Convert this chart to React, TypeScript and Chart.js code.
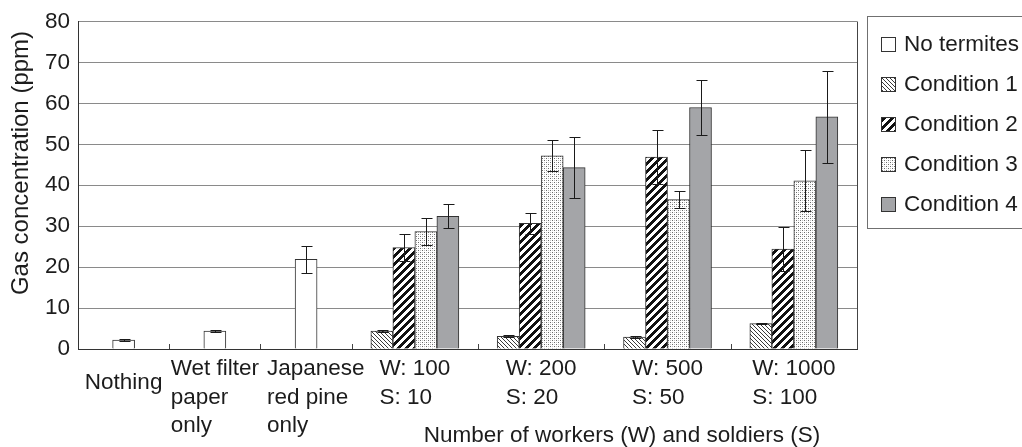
import React, { useEffect, useRef } from "react";
import { Chart, registerables } from "chart.js";

Chart.register(...registerables);

// ---- data ----
const categoryLabels: string[][] = [
  ["Nothing"],
  ["Wet filter", "paper", "only"],
  ["Japanese", "red pine", "only"],
  ["W: 100", "S: 10"],
  ["W: 200", "S: 20"],
  ["W: 500", "S: 50"],
  ["W: 1000", "S: 100"],
];

const seriesNames = ["No termites", "Condition 1", "Condition 2", "Condition 3", "Condition 4"];

const noTermites = [2.2, 4.4, 21.9, null, null, null, null];
const noTermitesErr = [0.2, 0.3, 3.3, null, null, null, null];

const condition1 = [null, null, null, 4.4, 3.1, 2.9, 6.2];
const condition1Err = [null, null, null, 0.3, 0.2, 0.2, 0.2];

const condition2 = [null, null, null, 24.8, 30.7, 46.9, 24.4];
const condition2Err = [null, null, null, 3.3, 2.5, 6.5, 5.3];

const condition3 = [null, null, null, 28.7, 47.2, 36.5, 41.1];
const condition3Err = [null, null, null, 3.3, 3.8, 2.1, 7.5];

const condition4 = [null, null, null, 32.4, 44.3, 59.0, 56.7];
const condition4Err = [null, null, null, 2.9, 7.4, 6.7, 11.2];

const yMin = 0;
const yMax = 80;
const yStep = 10;

const yAxisTitle = "Gas concentration (ppm)";
const xAxisTitle = "Number of workers (W) and soldiers (S)";

// relative width of each category slot: single-bar slots are narrower than the 4-bar groups
const categorySpan = [13, 13, 13, 18, 18, 18, 18];

// ---- layout helpers ----
const FONT = "Liberation Sans";
const FONT_SIZE = 22.5;
const TEXT = "#1c1c1c";

function slotCenters(spans: number[]) {
  let acc = 0;
  return spans.map((w) => {
    const c = acc + w / 2;
    acc += w;
    return c;
  });
}
function slotBoundaries(spans: number[]) {
  const out: number[] = [];
  let acc = 0;
  spans.forEach((w) => {
    acc += w;
    out.push(acc);
  });
  return out;
}
const spanTotal = categorySpan.reduce((a, b) => a + b, 0);

function makePattern(size: number, paint: (g: CanvasRenderingContext2D) => void) {
  const c = document.createElement("canvas");
  c.width = size;
  c.height = size;
  const g = c.getContext("2d")!;
  g.fillStyle = "#ffffff";
  g.fillRect(0, 0, size, size);
  paint(g);
  return g.createPattern(c, "repeat") as CanvasPattern;
}

export default function App() {
  const canvasRef = useRef<HTMLCanvasElement | null>(null);

  useEffect(() => {
    const canvas = canvasRef.current;
    if (!canvas) return;

    // fine "\" hatching
    const hatchFine = makePattern(4, (g) => {
      g.fillStyle = "#3a3a3a";
      for (let i = 0; i < 4; i++) g.fillRect(i, i, 1, 1);
    });
    // bold "/" stripes
    const hatchBold = makePattern(8, (g) => {
      g.fillStyle = "#111111";
      for (let x = 0; x < 8; x++)
        for (let y = 0; y < 8; y++) if ((x + y) % 8 < 4) g.fillRect(x, y, 1, 1);
    });
    // stipple dots
    const dots = makePattern(4, (g) => {
      g.fillStyle = "#6a6a6a";
      g.fillRect(0, 0, 1, 1);
      g.fillRect(2, 2, 1, 1);
      g.fillStyle = "#c4c4c4";
      g.fillRect(2, 0, 1, 1);
      g.fillRect(0, 2, 1, 1);
    });

    const fills: (string | CanvasPattern)[] = ["#ffffff", hatchFine, hatchBold, dots, "#a4a5a8"];
    const values = [noTermites, condition1, condition2, condition3, condition4];
    const errors = [noTermitesErr, condition1Err, condition2Err, condition3Err, condition4Err];

    const centers = slotCenters(categorySpan);
    const bounds = slotBoundaries(categorySpan).slice(0, -1);

    const datasets = values.map((vals, si) => ({
      label: seriesNames[si],
      data: vals.map((v, i) => ({ x: centers[i], y: v })),
      backgroundColor: fills[si],
      borderColor: "#333333",
      borderWidth: 1,
      barThickness: 22,
      skipNull: true,
    }));

    const errorBars = {
      id: "errorBars",
      afterDatasetsDraw(chart: any) {
        const { ctx } = chart;
        const ys = chart.scales.y;
        ctx.save();
        ctx.strokeStyle = "#1a1a1a";
        ctx.lineWidth = 1;
        chart.data.datasets.forEach((ds: any, di: number) => {
          const meta = chart.getDatasetMeta(di);
          meta.data.forEach((bar: any, i: number) => {
            const v = values[di][i];
            const e = errors[di][i];
            if (v == null || e == null) return;
            const x = Math.round(bar.x) + 0.5;
            const top = Math.round(ys.getPixelForValue(v + e)) + 0.5;
            const bot = Math.round(ys.getPixelForValue(v - e)) + 0.5;
            ctx.beginPath();
            ctx.moveTo(x, top);
            ctx.lineTo(x, bot);
            ctx.moveTo(x - 5, top);
            ctx.lineTo(x + 6, top);
            ctx.moveTo(x - 5, bot);
            ctx.lineTo(x + 6, bot);
            ctx.stroke();
          });
        });
        ctx.restore();
      },
    };

    const decorations = {
      id: "decorations",
      afterDraw(chart: any) {
        const { ctx, chartArea } = chart;
        const xs = chart.scales.x;
        ctx.save();

        // plot frame (right edge) and category tick marks
        ctx.strokeStyle = "#444444";
        ctx.lineWidth = 1;
        ctx.beginPath();
        ctx.moveTo(Math.round(chartArea.right) + 0.5, chartArea.top);
        ctx.lineTo(Math.round(chartArea.right) + 0.5, chartArea.bottom);
        bounds.forEach((b) => {
          const px = Math.round(xs.getPixelForValue(b)) + 0.5;
          ctx.moveTo(px, chartArea.bottom);
          ctx.lineTo(px, chartArea.bottom - 5);
        });
        ctx.stroke();

        // category labels: left-aligned blocks centred under each slot,
        // nudged right when they would run into the previous block
        ctx.fillStyle = TEXT;
        ctx.font = `${FONT_SIZE}px "${FONT}"`;
        ctx.textBaseline = "alphabetic";
        ctx.textAlign = "left";
        const firstBase = chartArea.bottom + 26;
        const lineGap = 28.5;
        let prevRight = -Infinity;
        categoryLabels.forEach((lines, i) => {
          const cx = xs.getPixelForValue(centers[i]);
          const w = Math.max(...lines.map((l) => ctx.measureText(l).width));
          const left = Math.max(cx - w / 2, prevRight + 8);
          prevRight = left + w;
          const startY = lines.length === 1 ? firstBase + lineGap / 2 : firstBase;
          lines.forEach((l, li) => ctx.fillText(l, left, startY + li * lineGap));
        });

        // x axis title
        ctx.textAlign = "center";
        ctx.fillText(xAxisTitle, 622, chartArea.bottom + 93);

        // y axis title
        ctx.save();
        ctx.translate(28, 163);
        ctx.rotate(-Math.PI / 2);
        ctx.font = `24px "${FONT}"`;
        ctx.textBaseline = "alphabetic";
        ctx.fillText(yAxisTitle, 0, 0);
        ctx.restore();

        // legend
        const lx = 867.5;
        const ly = 16.5;
        ctx.fillStyle = "#ffffff";
        ctx.fillRect(lx, ly, 200, 212);
        ctx.strokeStyle = "#707070";
        ctx.strokeRect(lx, ly, 200, 212);
        ctx.font = `${FONT_SIZE}px "${FONT}"`;
        ctx.textAlign = "left";
        ctx.textBaseline = "middle";
        chart.data.datasets.forEach((ds: any, i: number) => {
          const cy = 44 + i * 40;
          ctx.fillStyle = ds.backgroundColor;
          ctx.fillRect(881, cy - 7, 14, 14);
          ctx.strokeStyle = "#333333";
          ctx.strokeRect(881.5, cy - 6.5, 14, 14);
          ctx.fillStyle = TEXT;
          ctx.fillText(ds.label, 904, cy + 1);
        });

        ctx.restore();
      },
    };

    const chart = new Chart(canvas, {
      type: "bar",
      data: { datasets: datasets as any },
      options: {
        animation: false,
        responsive: false,
        devicePixelRatio: 1,
        layout: { padding: { top: 16, right: 165, left: 0, bottom: 0 } },
        plugins: {
          legend: { display: false },
          tooltip: { enabled: false },
        },
        scales: {
          x: {
            type: "linear",
            min: 0,
            max: spanTotal,
            offset: false,
            grid: { display: false },
            border: { display: true, color: "#333333", width: 1 },
            ticks: { display: false },
            afterFit: (scale: any) => {
              scale.height = 98;
            },
          },
          y: {
            min: yMin,
            max: yMax,
            ticks: {
              stepSize: yStep,
              padding: 8,
              color: TEXT,
              font: { family: FONT, size: FONT_SIZE },
            },
            grid: { color: "#8a8a8a", lineWidth: 1, drawTicks: false },
            border: { display: true, color: "#333333", width: 1 },
            afterFit: (scale: any) => {
              scale.width = 78;
            },
          },
        },
      },
      plugins: [errorBars, decorations],
    });

    return () => chart.destroy();
  }, []);

  return (
    <div style={{ position: "fixed", left: 0, top: 0, width: 1022, height: 447, background: "#ffffff" }}>
      <canvas ref={canvasRef} width={1022} height={447} style={{ display: "block" }} />
    </div>
  );
}
